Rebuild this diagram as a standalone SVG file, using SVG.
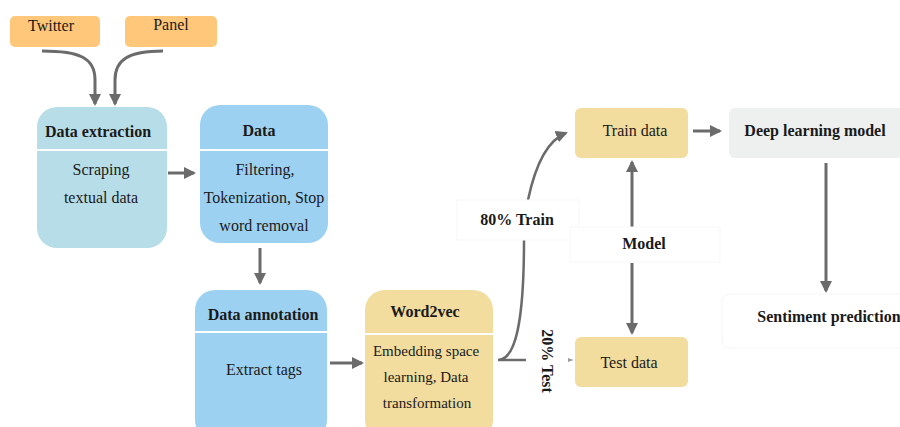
<svg xmlns="http://www.w3.org/2000/svg" width="900" height="427" viewBox="0 0 900 427">
<defs>
<marker id="ah" markerWidth="12" markerHeight="12" refX="10" refY="6" orient="auto" markerUnits="userSpaceOnUse">
<path d="M0,0 L12,6 L0,12 Z" fill="#6b6b6b"/>
</marker>
<marker id="ahs" markerWidth="6" markerHeight="6" refX="5" refY="3" orient="auto" markerUnits="userSpaceOnUse">
<path d="M0,1 L5,3 L0,5 Z" fill="#9a9a9a"/>
</marker>
</defs>
<style>
text{fill:#1a1a1a;text-anchor:middle}
.t{font-size:16px;font-weight:bold}
.b{font-size:16px}
.src{fill:#FFC77A}
.div{stroke:#ffffff;stroke-width:2}
.c{fill:none;stroke:#6b6b6b;stroke-width:3}
.lbl{fill:#ffffff;stroke:#f7f7f7;stroke-width:1}
</style>
<rect width="900" height="427" fill="#ffffff"/>
<g font-family="'Liberation Serif', 'DejaVu Serif', serif">
<g id="twitter"><rect class="src" x="10" y="16" width="90" height="31" rx="5"/><text class="b" x="51" y="31">Twitter</text></g>
<g id="panel"><rect class="src" x="125" y="16" width="92" height="31" rx="5"/><text class="b" x="171" y="30">Panel</text></g>

<g id="data-extraction"><rect x="37" y="107" width="130" height="141" rx="20" fill="#B7DDE8"/><line class="div" x1="37" y1="150" x2="167" y2="150"/>
<text class="t" x="98" y="137">Data extraction</text><text class="b" x="101" y="175">Scraping</text><text class="b" x="101" y="203">textual data</text></g>

<g id="data"><rect x="200" y="105" width="128" height="138" rx="20" fill="#9DD1F1"/><line class="div" x1="200" y1="150" x2="328" y2="150"/>
<text class="t" x="259" y="136">Data</text><text class="b" x="265" y="175">Filtering,</text><text class="b" x="264" y="203">Tokenization, Stop</text><text class="b" x="264" y="231">word removal</text></g>

<g id="data-annotation"><rect x="195" y="290" width="132" height="150" rx="20" fill="#9DD1F1"/><line class="div" x1="195" y1="332" x2="327" y2="332"/>
<text class="t" x="263" y="320">Data annotation</text><text class="b" x="264" y="375">Extract tags</text></g>

<g id="word2vec"><rect x="365" y="290" width="128" height="150" rx="20" fill="#F2DC9E"/><line class="div" x1="365" y1="334" x2="493" y2="334"/>
<text class="t" x="425" y="317">Word2vec</text><text class="b" x="426" y="356" style="font-size:15px">Embedding space</text><text class="b" x="426" y="382" style="font-size:15px">learning, Data</text><text class="b" x="427" y="408" style="font-size:15px">transformation</text></g>

<g id="train-data"><rect x="575" y="108" width="113" height="50" rx="6" fill="#F2DC9E"/><text class="b" x="635" y="136">Train data</text></g>
<g id="test-data"><rect x="575" y="337" width="113" height="50" rx="6" fill="#F2DC9E"/><text class="b" x="629" y="368">Test data</text></g>

<g id="deep-learning-model"><rect x="729" y="108" width="190" height="50" rx="6" fill="#EEF0F0"/><text class="t" x="815" y="136">Deep learning model</text></g>

<g id="sentiment-prediction"><rect x="722" y="294" width="200" height="54" rx="8" fill="#ffffff" stroke="#f5f5f5"/><text class="t" x="829" y="322">Sentiment prediction</text></g>

<g id="connectors">
<path class="c" marker-end="url(#ah)" d="M42,51 C80,51 95,58 95,80 L95,104"/>
<path class="c" marker-end="url(#ah)" d="M163,51 C128,51 115,60 115,80 L115,104"/>
<path class="c" marker-end="url(#ah)" d="M168,173 L194,173"/>
<path class="c" marker-end="url(#ah)" d="M260,248 L260,283"/>
<path class="c" marker-end="url(#ah)" d="M330,363 L362,363"/>
<path class="c" marker-end="url(#ah)" d="M693,131 L720,131"/>
<path class="c" marker-end="url(#ah)" d="M826,163 L826,291"/>
<path class="c" style="stroke-width:2.5" d="M524,240 C524,320 516,360 498,360 L526,360"/>
<path class="c" style="stroke-width:2.5" marker-end="url(#ah)" d="M528,200 C536,162 548,140 566,133"/>
<path fill="none" stroke="#bbbbbb" stroke-width="1" marker-end="url(#ahs)" d="M568,360 L573,360"/>
<path class="c" marker-end="url(#ah)" d="M632,227 L632,162"/>
<path class="c" marker-end="url(#ah)" d="M632,263 L632,333"/>
</g>

<g id="label-80-train"><rect class="lbl" x="457" y="200" width="122" height="40"/><text class="t" x="517" y="225">80% Train</text></g>
<g id="label-model"><rect class="lbl" x="570" y="227" width="150" height="35"/><text class="t" x="644" y="249">Model</text></g>
<g id="label-20-test"><text class="t" transform="translate(542,361) rotate(90)">20% Test</text></g>
</g>
</svg>
